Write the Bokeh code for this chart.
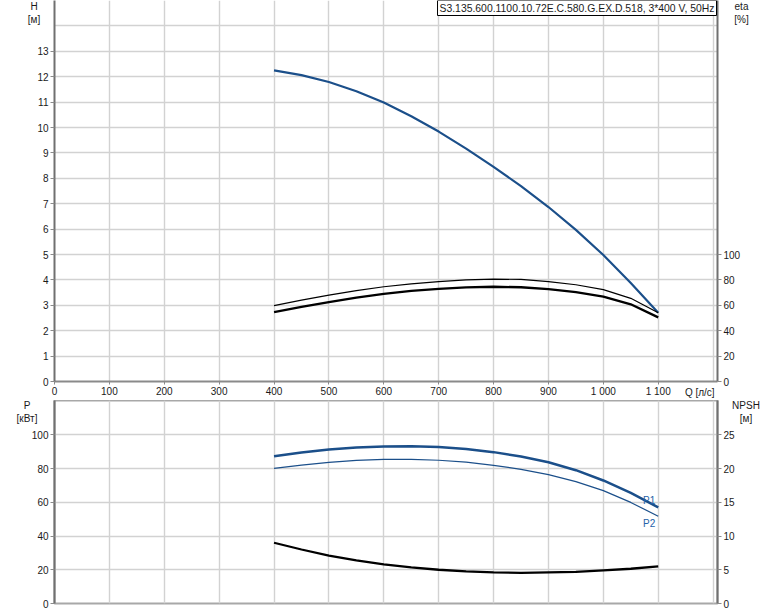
from bokeh.plotting import figure
from bokeh.models import Range1d, LinearAxis, FixedTicker, Label, Grid
from bokeh.layouts import column
from bokeh.embed import file_html
from bokeh.resources import INLINE

# ---------------- data ----------------
q = [400, 450, 500, 550, 600, 650, 700, 750, 800, 850, 900, 950, 1000, 1050, 1100]
head = [12.25, 12.06, 11.79, 11.43, 10.98, 10.44, 9.84, 9.17, 8.45, 7.69, 6.87, 5.97, 4.98, 3.88, 2.71]
eta_thin = [59.8, 64.1, 68.0, 71.6, 74.6, 76.9, 78.7, 80.0, 80.6, 80.4, 78.6, 76.2, 72.3, 65.5, 54.1]
eta_thick = [54.6, 58.7, 62.5, 66.0, 69.0, 71.3, 73.0, 74.1, 74.6, 74.2, 72.7, 70.4, 66.9, 60.8, 50.5]
p1 = [87.2, 89.5, 91.3, 92.5, 93.1, 93.2, 92.8, 91.6, 89.7, 87.1, 83.7, 79.0, 72.9, 65.5, 57.0]
p2 = [80.1, 82.0, 83.6, 84.8, 85.4, 85.4, 84.9, 83.8, 81.9, 79.5, 76.4, 72.2, 66.9, 59.9, 51.7]
npsh = [9.0, 8.0, 7.1, 6.4, 5.8, 5.35, 5.0, 4.75, 4.6, 4.55, 4.6, 4.7, 4.9, 5.15, 5.5]

x_ticks = [0, 100, 200, 300, 400, 500, 600, 700, 800, 900, 1000, 1100]
x_tick_labels = ["0", "100", "200", "300", "400", "500", "600", "700", "800", "900", "1 000", "1 100"]
x_grid = [0, 100, 200, 300, 400, 500, 600, 700, 800, 900, 1000, 1100, 1200]
h_ticks = [0, 1, 2, 3, 4, 5, 6, 7, 8, 9, 10, 11, 12, 13]
h_grid = [0, 1, 2, 3, 4, 5, 6, 7, 8, 9, 10, 11, 12, 13, 14]
eta_ticks = [0, 20, 40, 60, 80, 100]
p_ticks = [0, 20, 40, 60, 80, 100]
p_grid = [0, 20, 40, 60, 80, 100]
npsh_ticks = [0, 5, 10, 15, 20, 25]

title_text = "S3.135.600.1100.10.72E.C.580.G.EX.D.518, 3*400 V, 50Hz"
q_label = "Q [л/с]"
h_label = "H\n[м]"
eta_label = "eta\n[%]"
p_label = "P\n[кВт]"
npsh_label = "NPSH\n[м]"

# ---------------- styling ----------------
FONT = "Liberation Sans"
FS = "10px"
BLUE = "#1b4f8a"
TXT = "#1a1a1a"
GRID = "#d2d2d2"
AX = "#8a8a8a"

X_END = 1208.0
H_END = 15.0
P_END = 120.3


def style_axis(ax, ticks, overrides=None):
    ax.ticker = FixedTicker(ticks=ticks)
    if overrides:
        ax.major_label_overrides = overrides
    ax.major_label_text_font = FONT
    ax.major_label_text_font_size = FS
    ax.major_label_text_color = TXT
    ax.axis_line_color = AX
    ax.axis_line_width = 2
    ax.major_tick_line_color = AX
    ax.major_tick_in = 0
    ax.major_tick_out = 4
    ax.minor_tick_line_color = None
    ax.major_label_standoff = 2


def side_label(plot, place, x, y, s, dx, dy, align="center", baseline="middle", color=TXT):
    # labels live in a side panel so that they are not clipped to the frame
    plot.add_layout(Label(x=x, y=y, text=s, text_font=FONT, text_font_size=FS,
                          text_color=color, text_align=align, text_baseline=baseline,
                          text_line_height=1.2, x_offset=dx, y_offset=dy), place)


# ---------------- top figure: H and eta ----------------
top = figure(width=774, height=400, x_range=Range1d(0, X_END), y_range=Range1d(0, H_END),
             output_backend="svg", toolbar_location=None,
             min_border_left=54, min_border_right=57, min_border_top=0, min_border_bottom=19)
top.outline_line_color = None
top.extra_y_ranges = {"eta": Range1d(0, H_END * 20)}
top.add_layout(LinearAxis(y_range_name="eta"), "right")

style_axis(top.xaxis[0], x_ticks, dict(zip(x_ticks, x_tick_labels)))
top.xaxis[0].major_tick_out = 3
top.xaxis[0].major_label_standoff = 1
style_axis(top.yaxis[0], h_ticks)
style_axis(top.yaxis[1], eta_ticks)
top.yaxis[0].axis_line_color = "#707070"
top.yaxis[1].axis_line_color = "#707070"

top.xgrid.ticker = FixedTicker(ticks=x_grid)
top.ygrid.ticker = FixedTicker(ticks=h_grid)
for g in list(top.xgrid) + list(top.ygrid):
    g.grid_line_color = GRID
    g.grid_line_width = 1.4

top.line(q, head, line_color=BLUE, line_width=2.2, line_join="round")
top.line(q, eta_thin, line_color="black", line_width=1.2, y_range_name="eta", line_join="round")
top.line(q, eta_thick, line_color="black", line_width=2.3, y_range_name="eta", line_join="round")

top.add_layout(Label(x=X_END, y=H_END, text=title_text, text_font=FONT, text_font_size="10.4px",
                     text_color=TXT, text_align="right", text_baseline="top", x_offset=-1,
                     border_line_color="black", border_line_width=1,
                     background_fill_color="white", padding=2))
side_label(top, "left", 1200, 0, q_label, 1.5, -11, align="right")
side_label(top, "right", 0, H_END, h_label, -20.5, 0, baseline="top")
side_label(top, "right", X_END, H_END, eta_label, 24, 0, baseline="top")

# ---------------- bottom figure: P and NPSH ----------------
bot = figure(width=774, height=210, x_range=top.x_range, y_range=Range1d(0, P_END),
             output_backend="svg", toolbar_location=None, x_axis_location=None,
             min_border_left=54, min_border_right=57, min_border_top=0, min_border_bottom=7)
bot.outline_line_color = "#a8a8a8"
bot.outline_line_width = 2
bot.extra_y_ranges = {"npsh": Range1d(0, P_END / 4)}
bot.add_layout(LinearAxis(y_range_name="npsh"), "right")
style_axis(bot.yaxis[0], p_ticks)
style_axis(bot.yaxis[1], npsh_ticks)
bot.yaxis[0].axis_line_color = "#707070"
bot.yaxis[1].axis_line_color = "#707070"

if len(bot.xgrid) == 0:
    bot.add_layout(Grid(dimension=0, ticker=FixedTicker(ticks=x_grid)))
else:
    bot.xgrid.ticker = FixedTicker(ticks=x_grid)
bot.ygrid.ticker = FixedTicker(ticks=p_grid)
for g in list(bot.xgrid) + list(bot.ygrid):
    g.grid_line_color = GRID
    g.grid_line_width = 1.4

bot.line(q, p1, line_color=BLUE, line_width=2.5, line_join="round")
bot.line(q, p2, line_color=BLUE, line_width=1.2, line_join="round")
bot.line(q, npsh, line_color="black", line_width=2.3, y_range_name="npsh", line_join="round")

bot.add_layout(Label(x=q[-1], y=p1[-1], text="P1", text_font=FONT, text_font_size=FS,
                     text_color="#2462a8", text_align="center", text_baseline="middle",
                     x_offset=-9, y_offset=6.5))
bot.add_layout(Label(x=q[-1], y=p2[-1], text="P2", text_font=FONT, text_font_size=FS,
                     text_color="#2462a8", text_align="center", text_baseline="middle",
                     x_offset=-9, y_offset=-7.5))

side_label(bot, "left", 0, P_END, p_label, -27.5, 1, baseline="top")
side_label(bot, "right", X_END, P_END, npsh_label, 28.5, 1, baseline="top")

layout = column(top, bot, spacing=0)
open("out.html", "w").write(file_html(layout, INLINE))
